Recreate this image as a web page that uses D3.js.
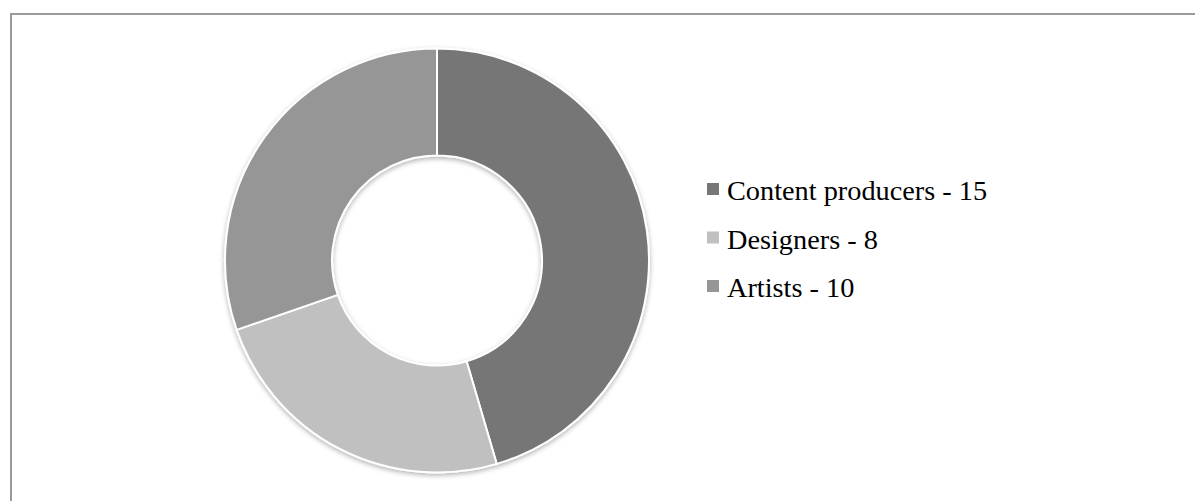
<!DOCTYPE html>
<html lang="en">
<head>
    <meta charset="UTF-8">
    <title>Team donut</title>
    <script src="https://d3js.org/d3.v7.min.js"></script>
    <style>
        body { margin: 0; background: #fff; }
        .legend text {
            font-family: "Liberation Serif", "DejaVu Serif", serif;
            font-size: 28.3px;
            fill: #000;
        }
    </style>
</head>
<body>
    <div id="chart"></div>

    <script>
        // data
        const categories = ["Content producers", "Designers", "Artists"];
        const values = [15, 8, 10];
        const colors = ["#767676", "#c0c0c0", "#969696"];

        const W = 1195, H = 501;
        const cx = 437, cy = 260.5, outerR = 212, innerR = 105;

        const svg = d3.select("#chart").append("svg")
            .attr("width", W)
            .attr("height", H);

        // soft shadow under the ring
        const defs = svg.append("defs");
        const f = defs.append("filter").attr("id", "shadow")
            .attr("x", "-10%").attr("y", "-10%").attr("width", "120%").attr("height", "120%");
        f.append("feDropShadow")
            .attr("dx", 0).attr("dy", 2).attr("stdDeviation", 2.5)
            .attr("flood-color", "#000").attr("flood-opacity", 0.3);

        // chart frame (runs off the right and bottom edge)
        svg.append("path")
            .attr("d", `M11,${H + 5} V14 H${W + 5}`)
            .attr("fill", "none")
            .attr("stroke", "#9a9a9a")
            .attr("stroke-width", 2);

        const pie = d3.pie().sort(null).value(d => d);
        const arc = d3.arc().innerRadius(innerR).outerRadius(outerR);

        const g = svg.append("g")
            .attr("transform", `translate(${cx},${cy})`);

        g.append("g")
            .attr("filter", "url(#shadow)")
            .selectAll("path")
            .data(pie(values))
            .join("path")
                .attr("d", arc)
                .attr("fill", (d, i) => colors[i])
                .attr("stroke", "#fff")
                .attr("stroke-width", 2);

        // legend
        const legend = svg.append("g")
            .attr("class", "legend")
            .attr("transform", "translate(707,183)");

        const item = legend.selectAll("g")
            .data(categories)
            .join("g")
                .attr("transform", (d, i) => `translate(0,${i * 48.5})`);

        item.append("rect")
            .attr("width", 12)
            .attr("height", 12)
            .attr("fill", (d, i) => colors[i]);

        item.append("text")
            .attr("x", 20)
            .attr("y", 17)
            .text((d, i) => `${d} - ${values[i]}`);
    </script>
</body>
</html>
